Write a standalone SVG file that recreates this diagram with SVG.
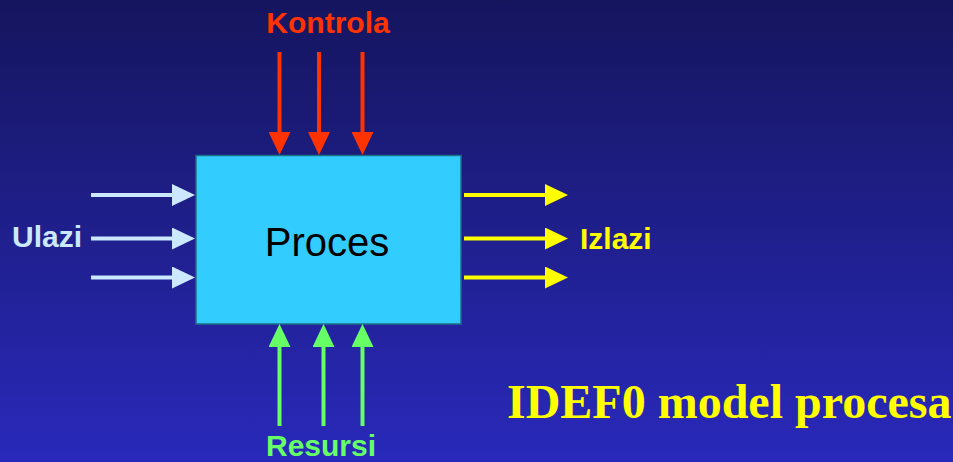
<svg xmlns="http://www.w3.org/2000/svg" width="953" height="462" viewBox="0 0 953 462">
  <defs>
    <linearGradient id="bg" x1="0" y1="0" x2="0" y2="1">
      <stop offset="0" stop-color="#15155e"/>
      <stop offset="1" stop-color="#2929bb"/>
    </linearGradient>
    <!-- arrowheads sit past the line end: base at the line end, tip 22px further -->
    <marker id="head-red" markerUnits="userSpaceOnUse" markerWidth="23" markerHeight="22" refX="1" refY="11" orient="auto">
      <path d="M0,0 L23,11 L0,22 Z" fill="#ff3300"/>
    </marker>
    <marker id="head-blue" markerUnits="userSpaceOnUse" markerWidth="23" markerHeight="22" refX="1" refY="11" orient="auto">
      <path d="M0,0 L23,11 L0,22 Z" fill="#cce8ff"/>
    </marker>
    <marker id="head-yellow" markerUnits="userSpaceOnUse" markerWidth="23" markerHeight="22" refX="1" refY="11" orient="auto">
      <path d="M0,0 L23,11 L0,22 Z" fill="#ffff00"/>
    </marker>
    <marker id="head-green" markerUnits="userSpaceOnUse" markerWidth="23" markerHeight="22" refX="1" refY="11" orient="auto">
      <path d="M0,0 L23,11 L0,22 Z" fill="#66ff66"/>
    </marker>
  </defs>
  <style>
    .lbl { font-family: "Liberation Sans", Arial, sans-serif; font-weight: bold; font-size: 30px; }
    .ctl { stroke: #ff3300; stroke-width: 4; fill: none; marker-end: url(#head-red); }
    .inp { stroke: #cce8ff; stroke-width: 4; fill: none; marker-end: url(#head-blue); }
    .out { stroke: #ffff00; stroke-width: 4; fill: none; marker-end: url(#head-yellow); }
    .res { stroke: #66ff66; stroke-width: 4; fill: none; marker-end: url(#head-green); }
  </style>

  <rect x="0" y="0" width="953" height="462" fill="url(#bg)"/>

  <!-- activity box -->
  <g id="proces">
    <rect x="196" y="155.5" width="265" height="168.5" fill="#33ccff" stroke="#1b6f86" stroke-width="1.5"/>
    <text x="327" y="256" text-anchor="middle" font-family="Liberation Sans, Arial, sans-serif" font-size="40" fill="#000000">Proces</text>
  </g>

  <!-- ICOM arrows -->
  <g id="connectors">
    <path class="ctl" d="M279.5,52 V133"/>
    <path class="ctl" d="M319,52 V133"/>
    <path class="ctl" d="M362.5,52 V133"/>

    <path class="inp" d="M91,195 H173"/>
    <path class="inp" d="M91,238.5 H173"/>
    <path class="inp" d="M91,277.5 H173"/>

    <path class="out" d="M464,195 H546"/>
    <path class="out" d="M464,238.5 H546"/>
    <path class="out" d="M464,277.5 H546"/>

    <path class="res" d="M279.5,426 V346"/>
    <path class="res" d="M323.5,426 V346"/>
    <path class="res" d="M362.5,426 V346"/>
  </g>

  <g id="kontrola">
    <text class="lbl" x="328" y="33" text-anchor="middle" fill="#ff3300">Kontrola</text>
  </g>
  <g id="ulazi">
    <text class="lbl" x="12" y="247" fill="#cce8ff">Ulazi</text>
  </g>
  <g id="izlazi">
    <text class="lbl" x="580" y="248.5" fill="#ffff00">Izlazi</text>
  </g>
  <g id="resursi">
    <text class="lbl" x="321" y="456" text-anchor="middle" fill="#66ff66">Resursi</text>
  </g>

  <g id="title">
    <text x="507" y="418" font-family="Liberation Serif, 'Times New Roman', serif" font-weight="bold" font-size="48" fill="#ffff00">IDEF0 model procesa</text>
  </g>
</svg>
